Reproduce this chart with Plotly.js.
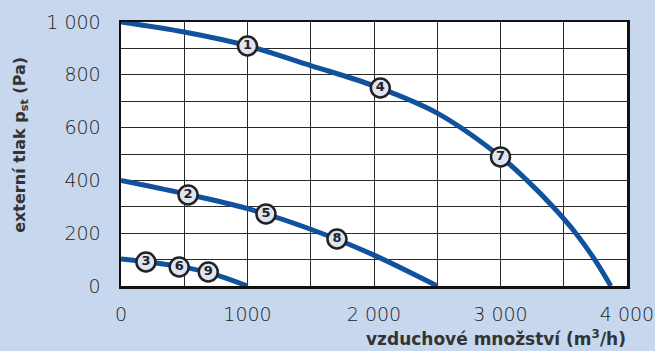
<!DOCTYPE html>
<html><head><meta charset="utf-8">
<script src="https://cdn.plot.ly/plotly-3.0.1.min.js"></script>
<style>html,body{margin:0;padding:0;background:#c6d7ee;}#chart{width:655px;height:351px;}</style>
</head><body><div id="chart"></div>
<script>
// Curve A (1, 4, 7)
const curveA_x = [0, 500, 1000, 1500, 2000, 2500, 3000, 3210, 3415, 3595, 3745, 3872];
const curveA_y = [1000, 962, 910, 835, 758, 655, 490, 400, 300, 200, 100, 0];
// Curve B (2, 5, 8)
const curveB_x = [0, 500, 1000, 1500, 2000, 2500];
const curveB_y = [400, 350, 293, 215, 117, 0];
// Curve C (3, 6, 9)
const curveC_x = [0, 200, 460, 700, 1000];
const curveC_y = [102, 92, 74, 50, 0];
// Numbered markers
const markerX = [1000, 530, 197, 2050, 1146, 460, 3000, 1707, 690];
const markerY = [909, 345, 91, 750, 273, 72, 489, 178, 53];
const markerLabels = ['1', '2', '3', '4', '5', '6', '7', '8', '9'];
// Tick labels
const xTickVals = [0, 1000, 2000, 3000, 4000];
const xTickText = ['0', '1000', '2 000', '3 000', '4 000'];
const yTickVals = [0, 200, 400, 600, 800, 1000];
const yTickText = ['0', '200', '400', '600', '800', '1 000'];
const xTitle = 'vzduchové množství (m<sup>3</sup>/h)';
const yTitle = 'externí tlak p<sub>st</sub> (Pa)';

const lineStyle = {color: '#11529e', width: 5, shape: 'spline', smoothing: 1};
const traces = [
  {x: curveA_x, y: curveA_y, mode: 'lines', line: lineStyle, hoverinfo: 'skip'},
  {x: curveB_x, y: curveB_y, mode: 'lines', line: lineStyle, hoverinfo: 'skip'},
  {x: curveC_x, y: curveC_y, mode: 'lines', line: lineStyle, hoverinfo: 'skip'},
  {x: markerX, y: markerY, mode: 'markers+text', text: markerLabels,
   textposition: 'middle center', cliponaxis: false,
   textfont: {family: 'DejaVu Sans, sans-serif', size: 13, color: '#222', weight: 'bold'},
   marker: {size: 19, color: '#dde4f4', line: {color: '#222', width: 2.5}}}
];
const tickFont = {family: 'DejaVu Sans, sans-serif', size: 19, color: '#1e1e1e', weight: 300};
const titleFont = {family: 'DejaVu Sans, sans-serif', size: 16, color: '#333', weight: 'bold'};
const layout = {
  width: 655, height: 351,
  margin: {l: 121, r: 28, t: 22, b: 65},
  paper_bgcolor: '#c6d7ee', plot_bgcolor: '#ffffff',
  showlegend: false,
  xaxis: {
    range: [0, 4000], tickvals: xTickVals, ticktext: xTickText,
    ticks: 'outside', ticklen: 10, tickcolor: 'rgba(0,0,0,0)',
    showgrid: true, gridcolor: '#2a2a2a', gridwidth: 1,
    minor: {dtick: 500, tick0: 0, showgrid: true, gridcolor: '#2a2a2a', gridwidth: 1},
    showline: true, linecolor: '#111', linewidth: 2.5, mirror: true,
    zeroline: false, tickfont: tickFont, fixedrange: true
  },
  yaxis: {
    range: [0, 1000], tickvals: yTickVals, ticktext: yTickText,
    ticks: 'outside', ticklen: 14, tickcolor: 'rgba(0,0,0,0)',
    showgrid: true, gridcolor: '#2a2a2a', gridwidth: 1,
    minor: {dtick: 100, tick0: 0, showgrid: true, gridcolor: '#2a2a2a', gridwidth: 1},
    showline: true, linecolor: '#111', linewidth: 2.5, mirror: true,
    zeroline: false, tickfont: tickFont, fixedrange: true
  },
  annotations: [{
    xref: 'paper', yref: 'paper', x: 1.002, y: -0.197, xanchor: 'right', yanchor: 'middle',
    showarrow: false, text: xTitle, font: Object.assign({}, titleFont, {size: 17})
  }, {
    xref: 'paper', yref: 'paper', x: -0.2, y: 0.534, xanchor: 'center', yanchor: 'middle',
    textangle: -90, showarrow: false, text: yTitle, font: titleFont
  }]
};
Plotly.newPlot('chart', traces, layout, {displayModeBar: false, staticPlot: true});
</script></body></html>
